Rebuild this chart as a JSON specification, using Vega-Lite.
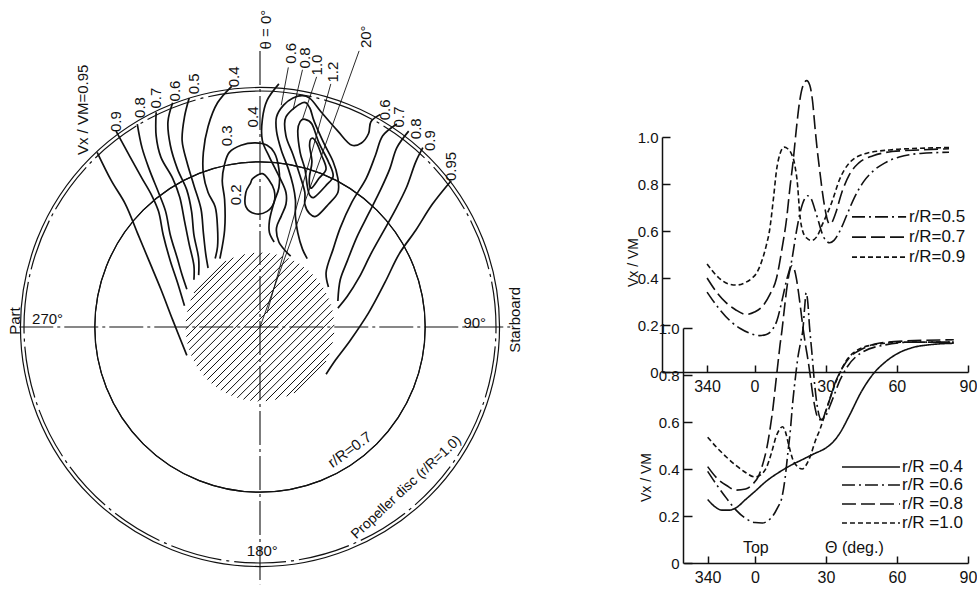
{
  "$schema": "https://vega.github.io/schema/vega-lite/v6.json",
  "width": 977,
  "height": 589,
  "autosize": {"type": "none"},
  "padding": 0,
  "background": "white",
  "config": {"view": {"stroke": null}, "font": "Liberation Sans", "text": {"font": "Liberation Sans", "color": "#111"}},
  "datasets": {
    "one": [{}],
    "hatch": [
      {"x1": -22.3, "y1": -22.3, "x2": 22.3, "y2": 22.3},
      {"x1": -20.5, "y1": -23.9, "x2": 23.9, "y2": 20.5},
      {"x1": -23.9, "y1": -20.5, "x2": 20.5, "y2": 23.9},
      {"x1": -18.6, "y1": -25.4, "x2": 25.4, "y2": 18.6},
      {"x1": -25.4, "y1": -18.6, "x2": 18.6, "y2": 25.4},
      {"x1": -16.6, "y1": -26.8, "x2": 26.8, "y2": 16.6},
      {"x1": -26.8, "y1": -16.6, "x2": 16.6, "y2": 26.8},
      {"x1": -14.4, "y1": -28.0, "x2": 28.0, "y2": 14.4},
      {"x1": -28.0, "y1": -14.4, "x2": 14.4, "y2": 28.0},
      {"x1": -12.1, "y1": -29.1, "x2": 29.1, "y2": 12.1},
      {"x1": -29.1, "y1": -12.1, "x2": 12.1, "y2": 29.1},
      {"x1": -9.6, "y1": -30.0, "x2": 30.0, "y2": 9.6},
      {"x1": -30.0, "y1": -9.6, "x2": 9.6, "y2": 30.0},
      {"x1": -7.0, "y1": -30.7, "x2": 30.7, "y2": 7.0},
      {"x1": -30.7, "y1": -7.0, "x2": 7.0, "y2": 30.7},
      {"x1": -4.1, "y1": -31.2, "x2": 31.2, "y2": 4.1},
      {"x1": -31.2, "y1": -4.1, "x2": 4.1, "y2": 31.2},
      {"x1": -0.9, "y1": -31.5, "x2": 31.5, "y2": 0.9},
      {"x1": -31.5, "y1": -0.9, "x2": 0.9, "y2": 31.5},
      {"x1": 2.5, "y1": -31.4, "x2": 31.4, "y2": -2.5},
      {"x1": -31.4, "y1": 2.5, "x2": -2.5, "y2": 31.4},
      {"x1": 6.5, "y1": -30.8, "x2": 30.8, "y2": -6.5},
      {"x1": -30.8, "y1": 6.5, "x2": -6.5, "y2": 30.8},
      {"x1": 11.3, "y1": -29.4, "x2": 29.4, "y2": -11.3},
      {"x1": -29.4, "y1": 11.3, "x2": -11.3, "y2": 29.4},
      {"x1": 14.4, "y1": -28.0, "x2": 28.0, "y2": -14.4},
      {"x1": -28.0, "y1": 14.4, "x2": -14.4, "y2": 28.0}
    ],
    "guides": [
      {"x1": -102, "y1": 0, "x2": 106, "y2": 0},
      {"x1": 0, "y1": 117, "x2": 0, "y2": -109}
    ],
    "thin": [
      {"x1": 0, "y1": 0, "x2": 42, "y2": 117},
      {"x1": 12, "y1": 110, "x2": 9, "y2": 94},
      {"x1": 18, "y1": 109, "x2": 14, "y2": 92},
      {"x1": 24, "y1": 106, "x2": 18, "y2": 88},
      {"x1": 30, "y1": 103, "x2": 3, "y2": 6}
    ],
    "open": [
      {"c": "L95", "i": 0, "x": -69, "y": 74}, {"c": "L95", "i": 1, "x": -63, "y": 62}, {"c": "L95", "i": 2, "x": -57, "y": 52}, {"c": "L95", "i": 3, "x": -52, "y": 40}, {"c": "L95", "i": 4, "x": -47, "y": 28}, {"c": "L95", "i": 5, "x": -42, "y": 16}, {"c": "L95", "i": 6, "x": -37, "y": 3}, {"c": "L95", "i": 7, "x": -31, "y": -12},
      {"c": "L90", "i": 0, "x": -61, "y": 83}, {"c": "L90", "i": 1, "x": -55, "y": 72}, {"c": "L90", "i": 2, "x": -50, "y": 63}, {"c": "L90", "i": 3, "x": -46, "y": 56}, {"c": "L90", "i": 4, "x": -43, "y": 49}, {"c": "L90", "i": 5, "x": -41, "y": 39}, {"c": "L90", "i": 6, "x": -38, "y": 28}, {"c": "L90", "i": 7, "x": -35, "y": 19}, {"c": "L90", "i": 8, "x": -32, "y": 9},
      {"c": "L80", "i": 0, "x": -52, "y": 86}, {"c": "L80", "i": 1, "x": -50, "y": 76}, {"c": "L80", "i": 2, "x": -47, "y": 67}, {"c": "L80", "i": 3, "x": -43, "y": 57}, {"c": "L80", "i": 4, "x": -40, "y": 49}, {"c": "L80", "i": 5, "x": -38, "y": 39}, {"c": "L80", "i": 6, "x": -35, "y": 29}, {"c": "L80", "i": 7, "x": -33, "y": 22}, {"c": "L80", "i": 8, "x": -31, "y": 16},
      {"c": "L70", "i": 0, "x": -44, "y": 91}, {"c": "L70", "i": 1, "x": -44, "y": 81}, {"c": "L70", "i": 2, "x": -42, "y": 72}, {"c": "L70", "i": 3, "x": -37, "y": 63}, {"c": "L70", "i": 4, "x": -34, "y": 55}, {"c": "L70", "i": 5, "x": -32, "y": 45}, {"c": "L70", "i": 6, "x": -30, "y": 35}, {"c": "L70", "i": 7, "x": -28, "y": 26}, {"c": "L70", "i": 8, "x": -28, "y": 20},
      {"c": "L60", "i": 0, "x": -37, "y": 95}, {"c": "L60", "i": 1, "x": -39, "y": 87}, {"c": "L60", "i": 2, "x": -38, "y": 77}, {"c": "L60", "i": 3, "x": -35, "y": 67}, {"c": "L60", "i": 4, "x": -31, "y": 58}, {"c": "L60", "i": 5, "x": -29, "y": 49}, {"c": "L60", "i": 6, "x": -28, "y": 39}, {"c": "L60", "i": 7, "x": -26, "y": 29}, {"c": "L60", "i": 8, "x": -26, "y": 22},
      {"c": "L50", "i": 0, "x": -30, "y": 97}, {"c": "L50", "i": 1, "x": -32, "y": 89}, {"c": "L50", "i": 2, "x": -33, "y": 79}, {"c": "L50", "i": 3, "x": -31, "y": 70}, {"c": "L50", "i": 4, "x": -28, "y": 60}, {"c": "L50", "i": 5, "x": -25, "y": 50}, {"c": "L50", "i": 6, "x": -24, "y": 40}, {"c": "L50", "i": 7, "x": -23, "y": 31}, {"c": "L50", "i": 8, "x": -22, "y": 25},
      {"c": "L40", "i": 0, "x": -12, "y": 102}, {"c": "L40", "i": 1, "x": -18, "y": 95}, {"c": "L40", "i": 2, "x": -22, "y": 85}, {"c": "L40", "i": 3, "x": -24, "y": 74}, {"c": "L40", "i": 4, "x": -24, "y": 65}, {"c": "L40", "i": 5, "x": -22, "y": 57}, {"c": "L40", "i": 6, "x": -19, "y": 51}, {"c": "L40", "i": 7, "x": -18, "y": 42}, {"c": "L40", "i": 8, "x": -18, "y": 34}, {"c": "L40", "i": 9, "x": -19, "y": 29},
      {"c": "C30", "i": 0, "x": -17, "y": 29}, {"c": "C30", "i": 1, "x": -15, "y": 41}, {"c": "C30", "i": 2, "x": -15, "y": 54}, {"c": "C30", "i": 3, "x": -16, "y": 62}, {"c": "C30", "i": 4, "x": -15, "y": 69}, {"c": "C30", "i": 5, "x": -13, "y": 74}, {"c": "C30", "i": 6, "x": -8, "y": 77}, {"c": "C30", "i": 7, "x": -2, "y": 78}, {"c": "C30", "i": 8, "x": 3, "y": 77}, {"c": "C30", "i": 9, "x": 6, "y": 74}, {"c": "C30", "i": 10, "x": 8, "y": 67}, {"c": "C30", "i": 11, "x": 8, "y": 59}, {"c": "C30", "i": 12, "x": 6, "y": 53}, {"c": "C30", "i": 13, "x": 4, "y": 45}, {"c": "C30", "i": 14, "x": 4, "y": 40}, {"c": "C30", "i": 15, "x": 6, "y": 36},
      {"c": "C40", "i": 0, "x": 8, "y": 103}, {"c": "C40", "i": 1, "x": 3, "y": 96}, {"c": "C40", "i": 2, "x": 1, "y": 88}, {"c": "C40", "i": 3, "x": 1, "y": 79}, {"c": "C40", "i": 4, "x": 4, "y": 72}, {"c": "C40", "i": 5, "x": 8, "y": 64}, {"c": "C40", "i": 6, "x": 11, "y": 57}, {"c": "C40", "i": 7, "x": 11, "y": 52}, {"c": "C40", "i": 8, "x": 9, "y": 47}, {"c": "C40", "i": 9, "x": 7, "y": 42}, {"c": "C40", "i": 10, "x": 8, "y": 36}, {"c": "C40", "i": 11, "x": 11, "y": 32}, {"c": "C40", "i": 12, "x": 13, "y": 30},
      {"c": "C60", "i": 0, "x": 51, "y": 90}, {"c": "C60", "i": 1, "x": 47, "y": 87}, {"c": "C60", "i": 2, "x": 46, "y": 82}, {"c": "C60", "i": 3, "x": 43, "y": 78}, {"c": "C60", "i": 4, "x": 39, "y": 77}, {"c": "C60", "i": 5, "x": 33, "y": 83}, {"c": "C60", "i": 6, "x": 26, "y": 91}, {"c": "C60", "i": 7, "x": 21, "y": 97}, {"c": "C60", "i": 8, "x": 18, "y": 98}, {"c": "C60", "i": 9, "x": 14, "y": 97}, {"c": "C60", "i": 10, "x": 10, "y": 94}, {"c": "C60", "i": 11, "x": 7, "y": 89}, {"c": "C60", "i": 12, "x": 7, "y": 83}, {"c": "C60", "i": 13, "x": 9, "y": 75}, {"c": "C60", "i": 14, "x": 12, "y": 67}, {"c": "C60", "i": 15, "x": 14, "y": 60}, {"c": "C60", "i": 16, "x": 15, "y": 54}, {"c": "C60", "i": 17, "x": 15, "y": 47}, {"c": "C60", "i": 18, "x": 16, "y": 40}, {"c": "C60", "i": 19, "x": 18, "y": 33}, {"c": "C60", "i": 20, "x": 20, "y": 29},
      {"c": "R70", "i": 0, "x": 58, "y": 86}, {"c": "R70", "i": 1, "x": 52, "y": 81}, {"c": "R70", "i": 2, "x": 49, "y": 73}, {"c": "R70", "i": 3, "x": 45, "y": 63}, {"c": "R70", "i": 4, "x": 39, "y": 53}, {"c": "R70", "i": 5, "x": 34, "y": 42}, {"c": "R70", "i": 6, "x": 31, "y": 33}, {"c": "R70", "i": 7, "x": 28, "y": 23}, {"c": "R70", "i": 8, "x": 29, "y": 17},
      {"c": "R80", "i": 0, "x": 63, "y": 83}, {"c": "R80", "i": 1, "x": 58, "y": 76}, {"c": "R80", "i": 2, "x": 55, "y": 67}, {"c": "R80", "i": 3, "x": 51, "y": 58}, {"c": "R80", "i": 4, "x": 46, "y": 48}, {"c": "R80", "i": 5, "x": 41, "y": 38}, {"c": "R80", "i": 6, "x": 37, "y": 28}, {"c": "R80", "i": 7, "x": 34, "y": 20}, {"c": "R80", "i": 8, "x": 33, "y": 11},
      {"c": "R90", "i": 0, "x": 69, "y": 76}, {"c": "R90", "i": 1, "x": 66, "y": 70}, {"c": "R90", "i": 2, "x": 62, "y": 59}, {"c": "R90", "i": 3, "x": 57, "y": 49}, {"c": "R90", "i": 4, "x": 52, "y": 40}, {"c": "R90", "i": 5, "x": 47, "y": 31}, {"c": "R90", "i": 6, "x": 42, "y": 21}, {"c": "R90", "i": 7, "x": 37, "y": 13}, {"c": "R90", "i": 8, "x": 33, "y": 8},
      {"c": "R95", "i": 0, "x": 81, "y": 62}, {"c": "R95", "i": 1, "x": 73, "y": 52}, {"c": "R95", "i": 2, "x": 66, "y": 41}, {"c": "R95", "i": 3, "x": 59, "y": 31}, {"c": "R95", "i": 4, "x": 53, "y": 19}, {"c": "R95", "i": 5, "x": 46, "y": 6}, {"c": "R95", "i": 6, "x": 38, "y": -6}, {"c": "R95", "i": 7, "x": 32, "y": -14}, {"c": "R95", "i": 8, "x": 28, "y": -20}
    ],
    "loops": [
      {"c": "C20", "i": 0, "x": -3, "y": 63}, {"c": "C20", "i": 1, "x": 1, "y": 65}, {"c": "C20", "i": 2, "x": 4, "y": 62}, {"c": "C20", "i": 3, "x": 6, "y": 58}, {"c": "C20", "i": 4, "x": 6, "y": 53}, {"c": "C20", "i": 5, "x": 3, "y": 49}, {"c": "C20", "i": 6, "x": -2, "y": 48}, {"c": "C20", "i": 7, "x": -6, "y": 51}, {"c": "C20", "i": 8, "x": -6, "y": 57}, {"c": "C20", "i": 9, "x": -4, "y": 61},
      {"c": "C80", "i": 0, "x": 18, "y": 95}, {"c": "C80", "i": 1, "x": 11, "y": 89}, {"c": "C80", "i": 2, "x": 11, "y": 81}, {"c": "C80", "i": 3, "x": 14, "y": 73}, {"c": "C80", "i": 4, "x": 17, "y": 64}, {"c": "C80", "i": 5, "x": 19, "y": 57}, {"c": "C80", "i": 6, "x": 19, "y": 52}, {"c": "C80", "i": 7, "x": 21, "y": 48}, {"c": "C80", "i": 8, "x": 24, "y": 47}, {"c": "C80", "i": 9, "x": 29, "y": 52}, {"c": "C80", "i": 10, "x": 33, "y": 57}, {"c": "C80", "i": 11, "x": 33, "y": 63}, {"c": "C80", "i": 12, "x": 31, "y": 70}, {"c": "C80", "i": 13, "x": 27, "y": 78}, {"c": "C80", "i": 14, "x": 23, "y": 87}, {"c": "C80", "i": 15, "x": 21, "y": 93},
      {"c": "C100", "i": 0, "x": 17, "y": 87}, {"c": "C100", "i": 1, "x": 16, "y": 83}, {"c": "C100", "i": 2, "x": 17, "y": 74}, {"c": "C100", "i": 3, "x": 19, "y": 67}, {"c": "C100", "i": 4, "x": 20, "y": 60}, {"c": "C100", "i": 5, "x": 21, "y": 56}, {"c": "C100", "i": 6, "x": 23, "y": 55}, {"c": "C100", "i": 7, "x": 28, "y": 60}, {"c": "C100", "i": 8, "x": 31, "y": 64}, {"c": "C100", "i": 9, "x": 29, "y": 70}, {"c": "C100", "i": 10, "x": 25, "y": 78}, {"c": "C100", "i": 11, "x": 22, "y": 86}, {"c": "C100", "i": 12, "x": 19, "y": 88},
      {"c": "C120", "i": 0, "x": 22, "y": 80}, {"c": "C120", "i": 1, "x": 21, "y": 77}, {"c": "C120", "i": 2, "x": 22, "y": 70}, {"c": "C120", "i": 3, "x": 21, "y": 64}, {"c": "C120", "i": 4, "x": 21, "y": 60}, {"c": "C120", "i": 5, "x": 22, "y": 59}, {"c": "C120", "i": 6, "x": 25, "y": 63}, {"c": "C120", "i": 7, "x": 28, "y": 67}, {"c": "C120", "i": 8, "x": 26, "y": 73}, {"c": "C120", "i": 9, "x": 24, "y": 78}
    ],
    "vlabels": [
      {"t": "θ = 0°", "x": 2.5, "y": 126},
      {"t": "20°", "x": 45, "y": 123},
      {"t": "Vx / VM=0.95", "x": -75, "y": 92},
      {"t": "0.9", "x": -61, "y": 87},
      {"t": "0.8", "x": -51, "y": 93},
      {"t": "0.7", "x": -44, "y": 97},
      {"t": "0.6", "x": -36, "y": 100},
      {"t": "0.5", "x": -28, "y": 103},
      {"t": "0.4", "x": -11, "y": 106},
      {"t": "0.3", "x": -14, "y": 81},
      {"t": "0.2", "x": -10, "y": 56},
      {"t": "0.4", "x": -3, "y": 89},
      {"t": "0.6", "x": 13, "y": 116},
      {"t": "0.8", "x": 19, "y": 114},
      {"t": "1.0", "x": 24, "y": 111},
      {"t": "1.2", "x": 31, "y": 108},
      {"t": "0.6", "x": 53, "y": 92},
      {"t": "0.7", "x": 59, "y": 89},
      {"t": "0.8", "x": 66, "y": 84},
      {"t": "0.9", "x": 72, "y": 79},
      {"t": "0.95", "x": 81, "y": 68},
      {"t": "Part", "x": -104, "y": 2.5},
      {"t": "Starboard", "x": 108, "y": 3}
    ],
    "hlabels": [
      {"t": "270°", "x": -90, "y": 3.4},
      {"t": "90°", "x": 91, "y": 1.7},
      {"t": "180°", "x": 1, "y": -95}
    ],
    "top": [
      {"r": "0.9", "deg": -20, "v": 0.46}, {"r": "0.9", "deg": -15, "v": 0.40}, {"r": "0.9", "deg": -11, "v": 0.375}, {"r": "0.9", "deg": -7.5, "v": 0.37}, {"r": "0.9", "deg": -4, "v": 0.38}, {"r": "0.9", "deg": -1, "v": 0.40}, {"r": "0.9", "deg": 0.8, "v": 0.42}, {"r": "0.9", "deg": 3, "v": 0.47}, {"r": "0.9", "deg": 5, "v": 0.54}, {"r": "0.9", "deg": 6.3, "v": 0.60}, {"r": "0.9", "deg": 8, "v": 0.74}, {"r": "0.9", "deg": 9.3, "v": 0.86}, {"r": "0.9", "deg": 10.8, "v": 0.93}, {"r": "0.9", "deg": 12.5, "v": 0.957}, {"r": "0.9", "deg": 14, "v": 0.95}, {"r": "0.9", "deg": 15.5, "v": 0.93}, {"r": "0.9", "deg": 17, "v": 0.88}, {"r": "0.9", "deg": 18.2, "v": 0.79}, {"r": "0.9", "deg": 19, "v": 0.68}, {"r": "0.9", "deg": 20.3, "v": 0.60}, {"r": "0.9", "deg": 22, "v": 0.57}, {"r": "0.9", "deg": 24, "v": 0.56}, {"r": "0.9", "deg": 26.2, "v": 0.575}, {"r": "0.9", "deg": 28.7, "v": 0.63}, {"r": "0.9", "deg": 32.5, "v": 0.72}, {"r": "0.9", "deg": 35.9, "v": 0.82}, {"r": "0.9", "deg": 40, "v": 0.89}, {"r": "0.9", "deg": 47, "v": 0.93}, {"r": "0.9", "deg": 57, "v": 0.945}, {"r": "0.9", "deg": 70, "v": 0.952}, {"r": "0.9", "deg": 82, "v": 0.955},
      {"r": "0.7", "deg": -20, "v": 0.40}, {"r": "0.7", "deg": -16, "v": 0.34}, {"r": "0.7", "deg": -12, "v": 0.295}, {"r": "0.7", "deg": -8, "v": 0.265}, {"r": "0.7", "deg": -3.5, "v": 0.245}, {"r": "0.7", "deg": 0, "v": 0.255}, {"r": "0.7", "deg": 3.4, "v": 0.28}, {"r": "0.7", "deg": 6.5, "v": 0.33}, {"r": "0.7", "deg": 9.3, "v": 0.40}, {"r": "0.7", "deg": 11.5, "v": 0.52}, {"r": "0.7", "deg": 13.5, "v": 0.65}, {"r": "0.7", "deg": 15, "v": 0.79}, {"r": "0.7", "deg": 16.2, "v": 0.89}, {"r": "0.7", "deg": 17.7, "v": 1.04}, {"r": "0.7", "deg": 19, "v": 1.15}, {"r": "0.7", "deg": 20.5, "v": 1.22}, {"r": "0.7", "deg": 22, "v": 1.24}, {"r": "0.7", "deg": 23.3, "v": 1.22}, {"r": "0.7", "deg": 24.5, "v": 1.15}, {"r": "0.7", "deg": 25.5, "v": 1.04}, {"r": "0.7", "deg": 26.5, "v": 0.94}, {"r": "0.7", "deg": 27.7, "v": 0.84}, {"r": "0.7", "deg": 28.7, "v": 0.76}, {"r": "0.7", "deg": 29.8, "v": 0.69}, {"r": "0.7", "deg": 30.8, "v": 0.645}, {"r": "0.7", "deg": 31.5, "v": 0.63}, {"r": "0.7", "deg": 32.5, "v": 0.635}, {"r": "0.7", "deg": 34, "v": 0.67}, {"r": "0.7", "deg": 37, "v": 0.77}, {"r": "0.7", "deg": 40, "v": 0.84}, {"r": "0.7", "deg": 44, "v": 0.89}, {"r": "0.7", "deg": 50, "v": 0.92}, {"r": "0.7", "deg": 58, "v": 0.938}, {"r": "0.7", "deg": 70, "v": 0.945}, {"r": "0.7", "deg": 82, "v": 0.95},
      {"r": "0.5", "deg": -20, "v": 0.34}, {"r": "0.5", "deg": -15, "v": 0.27}, {"r": "0.5", "deg": -10, "v": 0.215}, {"r": "0.5", "deg": -6, "v": 0.185}, {"r": "0.5", "deg": -2, "v": 0.165}, {"r": "0.5", "deg": 2, "v": 0.155}, {"r": "0.5", "deg": 5, "v": 0.16}, {"r": "0.5", "deg": 7.5, "v": 0.18}, {"r": "0.5", "deg": 9.5, "v": 0.22}, {"r": "0.5", "deg": 11.5, "v": 0.30}, {"r": "0.5", "deg": 13.5, "v": 0.39}, {"r": "0.5", "deg": 15.6, "v": 0.47}, {"r": "0.5", "deg": 17.7, "v": 0.60}, {"r": "0.5", "deg": 19.5, "v": 0.69}, {"r": "0.5", "deg": 21, "v": 0.735}, {"r": "0.5", "deg": 22.4, "v": 0.75}, {"r": "0.5", "deg": 24, "v": 0.735}, {"r": "0.5", "deg": 25.5, "v": 0.69}, {"r": "0.5", "deg": 27, "v": 0.64}, {"r": "0.5", "deg": 28.5, "v": 0.59}, {"r": "0.5", "deg": 30, "v": 0.56}, {"r": "0.5", "deg": 31.7, "v": 0.55}, {"r": "0.5", "deg": 33.5, "v": 0.56}, {"r": "0.5", "deg": 36, "v": 0.60}, {"r": "0.5", "deg": 39, "v": 0.67}, {"r": "0.5", "deg": 42, "v": 0.74}, {"r": "0.5", "deg": 46, "v": 0.81}, {"r": "0.5", "deg": 50, "v": 0.855}, {"r": "0.5", "deg": 55, "v": 0.89}, {"r": "0.5", "deg": 61, "v": 0.915}, {"r": "0.5", "deg": 70, "v": 0.93}, {"r": "0.5", "deg": 82, "v": 0.935}
    ],
    "bottom": [
      {"r": "0.4", "deg": -20, "v": 0.27}, {"r": "0.4", "deg": -17, "v": 0.24}, {"r": "0.4", "deg": -14, "v": 0.225}, {"r": "0.4", "deg": -11, "v": 0.225}, {"r": "0.4", "deg": -8, "v": 0.235}, {"r": "0.4", "deg": -4, "v": 0.27}, {"r": "0.4", "deg": 0, "v": 0.305}, {"r": "0.4", "deg": 5, "v": 0.35}, {"r": "0.4", "deg": 10, "v": 0.385}, {"r": "0.4", "deg": 15, "v": 0.415}, {"r": "0.4", "deg": 20, "v": 0.44}, {"r": "0.4", "deg": 25, "v": 0.465}, {"r": "0.4", "deg": 30, "v": 0.49}, {"r": "0.4", "deg": 33, "v": 0.515}, {"r": "0.4", "deg": 36, "v": 0.555}, {"r": "0.4", "deg": 40, "v": 0.63}, {"r": "0.4", "deg": 45, "v": 0.73}, {"r": "0.4", "deg": 50, "v": 0.805}, {"r": "0.4", "deg": 55, "v": 0.855}, {"r": "0.4", "deg": 60, "v": 0.89}, {"r": "0.4", "deg": 66, "v": 0.915}, {"r": "0.4", "deg": 75, "v": 0.93}, {"r": "0.4", "deg": 84, "v": 0.935},
      {"r": "0.6", "deg": -20, "v": 0.39}, {"r": "0.6", "deg": -16, "v": 0.33}, {"r": "0.6", "deg": -12, "v": 0.275}, {"r": "0.6", "deg": -8, "v": 0.225}, {"r": "0.6", "deg": -4, "v": 0.19}, {"r": "0.6", "deg": 0, "v": 0.172}, {"r": "0.6", "deg": 3, "v": 0.17}, {"r": "0.6", "deg": 5.5, "v": 0.18}, {"r": "0.6", "deg": 7.5, "v": 0.20}, {"r": "0.6", "deg": 9.5, "v": 0.235}, {"r": "0.6", "deg": 11.4, "v": 0.28}, {"r": "0.6", "deg": 12.7, "v": 0.36}, {"r": "0.6", "deg": 13.9, "v": 0.47}, {"r": "0.6", "deg": 14.8, "v": 0.55}, {"r": "0.6", "deg": 16, "v": 0.69}, {"r": "0.6", "deg": 17.2, "v": 0.80}, {"r": "0.6", "deg": 18.2, "v": 0.88}, {"r": "0.6", "deg": 19.3, "v": 0.94}, {"r": "0.6", "deg": 20.3, "v": 1.0}, {"r": "0.6", "deg": 21, "v": 1.09}, {"r": "0.6", "deg": 21.6, "v": 1.15}, {"r": "0.6", "deg": 22.3, "v": 1.11}, {"r": "0.6", "deg": 23, "v": 1.01}, {"r": "0.6", "deg": 24, "v": 0.90}, {"r": "0.6", "deg": 25.3, "v": 0.75}, {"r": "0.6", "deg": 26.6, "v": 0.65}, {"r": "0.6", "deg": 28, "v": 0.61}, {"r": "0.6", "deg": 29.5, "v": 0.62}, {"r": "0.6", "deg": 32.5, "v": 0.69}, {"r": "0.6", "deg": 36, "v": 0.78}, {"r": "0.6", "deg": 39, "v": 0.835}, {"r": "0.6", "deg": 45, "v": 0.895}, {"r": "0.6", "deg": 55, "v": 0.928}, {"r": "0.6", "deg": 67, "v": 0.94}, {"r": "0.6", "deg": 84, "v": 0.94},
      {"r": "0.8", "deg": -20, "v": 0.41}, {"r": "0.8", "deg": -16, "v": 0.36}, {"r": "0.8", "deg": -12, "v": 0.33}, {"r": "0.8", "deg": -8, "v": 0.31}, {"r": "0.8", "deg": -4, "v": 0.315}, {"r": "0.8", "deg": -1, "v": 0.335}, {"r": "0.8", "deg": 1.5, "v": 0.37}, {"r": "0.8", "deg": 3.4, "v": 0.425}, {"r": "0.8", "deg": 5, "v": 0.49}, {"r": "0.8", "deg": 6.5, "v": 0.58}, {"r": "0.8", "deg": 7.6, "v": 0.66}, {"r": "0.8", "deg": 8.7, "v": 0.76}, {"r": "0.8", "deg": 9.7, "v": 0.85}, {"r": "0.8", "deg": 10.6, "v": 0.93}, {"r": "0.8", "deg": 11.4, "v": 0.99}, {"r": "0.8", "deg": 12.5, "v": 1.09}, {"r": "0.8", "deg": 13.6, "v": 1.18}, {"r": "0.8", "deg": 14.6, "v": 1.24}, {"r": "0.8", "deg": 15.6, "v": 1.265}, {"r": "0.8", "deg": 16.6, "v": 1.25}, {"r": "0.8", "deg": 17.5, "v": 1.21}, {"r": "0.8", "deg": 18.4, "v": 1.15}, {"r": "0.8", "deg": 19.3, "v": 1.08}, {"r": "0.8", "deg": 20.3, "v": 1.0}, {"r": "0.8", "deg": 21.3, "v": 0.93}, {"r": "0.8", "deg": 22.3, "v": 0.87}, {"r": "0.8", "deg": 23.3, "v": 0.80}, {"r": "0.8", "deg": 24.5, "v": 0.71}, {"r": "0.8", "deg": 25.8, "v": 0.64}, {"r": "0.8", "deg": 27, "v": 0.61}, {"r": "0.8", "deg": 28.3, "v": 0.61}, {"r": "0.8", "deg": 30, "v": 0.65}, {"r": "0.8", "deg": 31.7, "v": 0.70}, {"r": "0.8", "deg": 34, "v": 0.77}, {"r": "0.8", "deg": 37.2, "v": 0.835}, {"r": "0.8", "deg": 40, "v": 0.875}, {"r": "0.8", "deg": 44.4, "v": 0.906}, {"r": "0.8", "deg": 52.8, "v": 0.936}, {"r": "0.8", "deg": 64, "v": 0.945}, {"r": "0.8", "deg": 84, "v": 0.95},
      {"r": "1.0", "deg": -20, "v": 0.535}, {"r": "1.0", "deg": -16, "v": 0.49}, {"r": "1.0", "deg": -12, "v": 0.45}, {"r": "1.0", "deg": -8, "v": 0.415}, {"r": "1.0", "deg": -4, "v": 0.385}, {"r": "1.0", "deg": 0, "v": 0.366}, {"r": "1.0", "deg": 3, "v": 0.38}, {"r": "1.0", "deg": 5, "v": 0.41}, {"r": "1.0", "deg": 7, "v": 0.47}, {"r": "1.0", "deg": 9, "v": 0.54}, {"r": "1.0", "deg": 10.5, "v": 0.57}, {"r": "1.0", "deg": 11.6, "v": 0.58}, {"r": "1.0", "deg": 12.8, "v": 0.56}, {"r": "1.0", "deg": 14.3, "v": 0.50}, {"r": "1.0", "deg": 16, "v": 0.44}, {"r": "1.0", "deg": 18, "v": 0.41}, {"r": "1.0", "deg": 20, "v": 0.40}, {"r": "1.0", "deg": 21.5, "v": 0.415}, {"r": "1.0", "deg": 23.2, "v": 0.45}, {"r": "1.0", "deg": 25.5, "v": 0.52}, {"r": "1.0", "deg": 27.5, "v": 0.57}, {"r": "1.0", "deg": 30.4, "v": 0.66}, {"r": "1.0", "deg": 33, "v": 0.74}, {"r": "1.0", "deg": 35.9, "v": 0.81}, {"r": "1.0", "deg": 38.5, "v": 0.86}, {"r": "1.0", "deg": 41.4, "v": 0.893}, {"r": "1.0", "deg": 45, "v": 0.915}, {"r": "1.0", "deg": 50, "v": 0.928}, {"r": "1.0", "deg": 64, "v": 0.94}, {"r": "1.0", "deg": 84, "v": 0.94}
    ],
    "notes": [
      {"t": "Top", "deg": -5.1, "v": 0.064},
      {"t": "Θ (deg.)", "deg": 29.6, "v": 0.064}
    ]
  },
  "layer": [
    {
      "layer": [
        {
          "data": {"name": "hatch"},
          "mark": {"type": "rule", "color": "#111", "strokeWidth": 1.0},
          "encoding": {
            "x": {"field": "x1", "type": "quantitative", "scale": {"domain": [-100, 100], "range": [24, 496], "nice": false, "zero": false}, "axis": null},
            "y": {"field": "y1", "type": "quantitative", "scale": {"domain": [-100, 100], "range": [563, 91], "nice": false, "zero": false}, "axis": null},
            "x2": {"field": "x2"},
            "y2": {"field": "y2"}
          }
        },
        {
          "data": {"values": [{"r": 100}]},
          "mark": {"type": "arc", "theta": 0, "theta2": 6.2832, "filled": false, "stroke": "#111", "strokeWidth": 1.2, "strokeDash": [52, 5, 3, 5]},
          "encoding": {
            "x": {"datum": 0, "type": "quantitative", "axis": null},
            "y": {"datum": 0, "type": "quantitative", "axis": null},
            "radius": {"field": "r", "type": "quantitative", "scale": {"type": "linear", "domain": [0, 100], "range": [0, 236], "zero": true, "nice": false}, "legend": null}
          }
        },
        {
          "data": {"values": [{"r": 70}, {"r": 31.5}]},
          "mark": {"type": "arc", "theta": 0, "theta2": 6.2832, "filled": false, "stroke": "#111", "strokeWidth": 1.2},
          "encoding": {
            "x": {"datum": 0, "type": "quantitative", "axis": null},
            "y": {"datum": 0, "type": "quantitative", "axis": null},
            "radius": {"field": "r", "type": "quantitative", "scale": {"type": "linear", "domain": [0, 100], "range": [0, 236], "zero": true, "nice": false}, "legend": null}
          }
        },
        {
          "data": {"name": "guides"},
          "mark": {"type": "rule", "color": "#111", "strokeWidth": 1.1, "strokeDash": [34, 4, 3, 4]},
          "encoding": {
            "x": {"field": "x1", "type": "quantitative", "axis": null},
            "y": {"field": "y1", "type": "quantitative", "axis": null},
            "x2": {"field": "x2"},
            "y2": {"field": "y2"}
          }
        },
        {
          "data": {"name": "thin"},
          "mark": {"type": "rule", "color": "#111", "strokeWidth": 0.9},
          "encoding": {
            "x": {"field": "x1", "type": "quantitative", "axis": null},
            "y": {"field": "y1", "type": "quantitative", "axis": null},
            "x2": {"field": "x2"},
            "y2": {"field": "y2"}
          }
        },
        {
          "data": {"name": "open"},
          "mark": {"type": "line", "color": "#111", "strokeWidth": 1.7, "interpolate": "catmull-rom"},
          "encoding": {
            "x": {"field": "x", "type": "quantitative", "axis": null},
            "y": {"field": "y", "type": "quantitative", "axis": null},
            "detail": {"field": "c"},
            "order": {"field": "i", "type": "quantitative"}
          }
        },
        {
          "data": {"name": "loops"},
          "mark": {"type": "line", "color": "#111", "strokeWidth": 1.7, "interpolate": "cardinal-closed"},
          "encoding": {
            "x": {"field": "x", "type": "quantitative", "axis": null},
            "y": {"field": "y", "type": "quantitative", "axis": null},
            "detail": {"field": "c"},
            "order": {"field": "i", "type": "quantitative"}
          }
        },
        {
          "data": {"name": "vlabels"},
          "mark": {"type": "text", "angle": 270, "fontSize": 15, "align": "center", "baseline": "middle", "color": "#111"},
          "encoding": {
            "x": {"field": "x", "type": "quantitative", "axis": null},
            "y": {"field": "y", "type": "quantitative", "axis": null},
            "text": {"field": "t"}
          }
        },
        {
          "data": {"name": "hlabels"},
          "mark": {"type": "text", "fontSize": 15, "align": "center", "baseline": "middle", "color": "#111"},
          "encoding": {
            "x": {"field": "x", "type": "quantitative", "axis": null},
            "y": {"field": "y", "type": "quantitative", "axis": null},
            "text": {"field": "t"}
          }
        },
        {
          "data": {"values": [{"t": "r/R=0.7", "x": 38, "y": -52}]},
          "mark": {"type": "text", "angle": -36, "fontSize": 15, "align": "center", "baseline": "middle", "color": "#111"},
          "encoding": {
            "x": {"field": "x", "type": "quantitative", "axis": null},
            "y": {"field": "y", "type": "quantitative", "axis": null},
            "text": {"field": "t"}
          }
        },
        {
          "data": {"values": [{"t": "Propeller disc (r/R=1.0)", "x": 62, "y": -68}]},
          "mark": {"type": "text", "angle": -43, "fontSize": 14, "align": "center", "baseline": "middle", "color": "#111"},
          "encoding": {
            "x": {"field": "x", "type": "quantitative", "axis": null},
            "y": {"field": "y", "type": "quantitative", "axis": null},
            "text": {"field": "t"}
          }
        }
      ]
    },
    {
      "layer": [
        {
          "data": {"name": "top"},
          "mark": {"type": "line", "color": "#111", "strokeWidth": 1.6, "interpolate": "monotone"},
          "encoding": {
            "x": {
              "field": "deg", "type": "quantitative",
              "scale": {"domain": [-39, 90], "range": [662, 968], "nice": false, "zero": false},
              "axis": {"orient": "bottom", "offset": -217, "values": [-20, 0, 30, 60, 90], "labelExpr": "datum.value == -20 ? '340' : datum.label", "tickSize": -7, "tickWidth": 1.5, "domainWidth": 1.5, "domainColor": "#111", "tickColor": "#111", "labelColor": "#111", "labelFontSize": 16, "labelFont": "Liberation Sans", "labelPadding": 13, "title": null, "grid": false, "labelFlush": false, "labelOverlap": false}
            },
            "y": {
              "field": "v", "type": "quantitative",
              "scale": {"domain": [0, 1], "range": [372, 137], "nice": false, "zero": false},
              "axis": {"orient": "left", "offset": -662, "values": [0, 0.2, 0.4, 0.6, 0.8, 1.0], "labelExpr": "datum.value == 0 ? '0' : format(datum.value, '.1f')", "tickSize": -8, "tickWidth": 1.5, "domainWidth": 1.5, "domainColor": "#111", "tickColor": "#111", "labelColor": "#111", "labelFontSize": 15, "labelFont": "Liberation Sans", "labelPadding": 12, "grid": false, "labelFlush": false, "labelOverlap": false, "title": "Vx / VM", "titleFont": "Liberation Sans", "titleFontSize": 14, "titleFontWeight": "normal", "titleColor": "#111", "titleX": -29, "titleY": 262, "titleAngle": 270, "titleAlign": "center", "titleBaseline": "middle"}
            },
            "strokeDash": {
              "field": "r", "type": "nominal",
              "scale": {"domain": ["0.5", "0.7", "0.9"], "range": [[13, 4, 2, 4], [14, 5], [5, 3]]},
              "legend": null
            }
          }
        },
        {"data": {"name": "one"}, "mark": {"type": "rule", "color": "#111", "strokeWidth": 1.6, "strokeDash": [13, 4, 2, 4]}, "encoding": {"x": {"datum": 41.1, "type": "quantitative"}, "x2": {"datum": 63.9}, "y": {"datum": 0.66, "type": "quantitative"}}},
        {"data": {"name": "one"}, "mark": {"type": "rule", "color": "#111", "strokeWidth": 1.6, "strokeDash": [14, 5]}, "encoding": {"x": {"datum": 41.1, "type": "quantitative"}, "x2": {"datum": 63.9}, "y": {"datum": 0.574, "type": "quantitative"}}},
        {"data": {"name": "one"}, "mark": {"type": "rule", "color": "#111", "strokeWidth": 1.6, "strokeDash": [5, 3]}, "encoding": {"x": {"datum": 41.1, "type": "quantitative"}, "x2": {"datum": 63.9}, "y": {"datum": 0.489, "type": "quantitative"}}},
        {"data": {"name": "one"}, "mark": {"type": "text", "text": "r/R=0.5", "fontSize": 17, "align": "left", "baseline": "middle", "color": "#111"}, "encoding": {"x": {"datum": 65.1, "type": "quantitative"}, "y": {"datum": 0.66, "type": "quantitative"}}},
        {"data": {"name": "one"}, "mark": {"type": "text", "text": "r/R=0.7", "fontSize": 17, "align": "left", "baseline": "middle", "color": "#111"}, "encoding": {"x": {"datum": 65.1, "type": "quantitative"}, "y": {"datum": 0.574, "type": "quantitative"}}},
        {"data": {"name": "one"}, "mark": {"type": "text", "text": "r/R=0.9", "fontSize": 17, "align": "left", "baseline": "middle", "color": "#111"}, "encoding": {"x": {"datum": 65.1, "type": "quantitative"}, "y": {"datum": 0.489, "type": "quantitative"}}}
      ]
    },
    {
      "layer": [
        {
          "data": {"name": "bottom"},
          "mark": {"type": "line", "color": "#111", "strokeWidth": 1.6, "interpolate": "monotone"},
          "encoding": {
            "x": {
              "field": "deg", "type": "quantitative",
              "scale": {"domain": [-30, 90], "range": [684, 968], "nice": false, "zero": false},
              "axis": {"orient": "bottom", "offset": -26, "values": [-20, 0, 30, 60, 90], "labelExpr": "datum.value == -20 ? '340' : datum.label", "tickSize": -7, "tickWidth": 1.5, "domainWidth": 1.5, "domainColor": "#111", "tickColor": "#111", "labelColor": "#111", "labelFontSize": 16, "labelFont": "Liberation Sans", "labelPadding": 13, "title": null, "grid": false, "labelFlush": false, "labelOverlap": false}
            },
            "y": {
              "field": "v", "type": "quantitative",
              "scale": {"domain": [0, 1], "range": [563, 328], "nice": false, "zero": false},
              "axis": {"orient": "left", "offset": -683, "values": [0, 0.2, 0.4, 0.6, 0.8, 1.0], "labelExpr": "datum.value == 0 ? '0' : format(datum.value, '.1f')", "tickSize": -9, "tickWidth": 1.5, "domainWidth": 1.5, "domainColor": "#111", "tickColor": "#111", "labelColor": "#111", "labelFontSize": 15, "labelFont": "Liberation Sans", "labelPadding": 13, "grid": false, "labelFlush": false, "labelOverlap": false, "title": "Vx / VM", "titleFont": "Liberation Sans", "titleFontSize": 14, "titleFontWeight": "normal", "titleColor": "#111", "titleX": -37, "titleY": 477, "titleAngle": 270, "titleAlign": "center", "titleBaseline": "middle"}
            },
            "strokeDash": {
              "field": "r", "type": "nominal",
              "scale": {"domain": ["0.4", "0.6", "0.8", "1.0"], "range": [[1, 0], [13, 4, 2, 4], [14, 5], [5, 3]]},
              "legend": null
            }
          }
        },
        {
          "data": {"name": "notes"},
          "mark": {"type": "text", "fontSize": 16, "align": "left", "baseline": "middle", "color": "#111"},
          "encoding": {
            "x": {"field": "deg", "type": "quantitative"},
            "y": {"field": "v", "type": "quantitative"},
            "text": {"field": "t"}
          }
        },
        {"data": {"name": "one"}, "mark": {"type": "rule", "color": "#111", "strokeWidth": 1.6}, "encoding": {"x": {"datum": 36.75, "type": "quantitative"}, "x2": {"datum": 61.25}, "y": {"datum": 0.4085, "type": "quantitative"}}},
        {"data": {"name": "one"}, "mark": {"type": "rule", "color": "#111", "strokeWidth": 1.6, "strokeDash": [13, 4, 2, 4]}, "encoding": {"x": {"datum": 36.75, "type": "quantitative"}, "x2": {"datum": 61.25}, "y": {"datum": 0.332, "type": "quantitative"}}},
        {"data": {"name": "one"}, "mark": {"type": "rule", "color": "#111", "strokeWidth": 1.6, "strokeDash": [14, 5]}, "encoding": {"x": {"datum": 36.75, "type": "quantitative"}, "x2": {"datum": 61.25}, "y": {"datum": 0.251, "type": "quantitative"}}},
        {"data": {"name": "one"}, "mark": {"type": "rule", "color": "#111", "strokeWidth": 1.6, "strokeDash": [5, 3]}, "encoding": {"x": {"datum": 36.75, "type": "quantitative"}, "x2": {"datum": 61.25}, "y": {"datum": 0.170, "type": "quantitative"}}},
        {"data": {"name": "one"}, "mark": {"type": "text", "text": "r/R =0.4", "fontSize": 17, "align": "left", "baseline": "middle", "color": "#111"}, "encoding": {"x": {"datum": 62.1, "type": "quantitative"}, "y": {"datum": 0.4085, "type": "quantitative"}}},
        {"data": {"name": "one"}, "mark": {"type": "text", "text": "r/R =0.6", "fontSize": 17, "align": "left", "baseline": "middle", "color": "#111"}, "encoding": {"x": {"datum": 62.1, "type": "quantitative"}, "y": {"datum": 0.332, "type": "quantitative"}}},
        {"data": {"name": "one"}, "mark": {"type": "text", "text": "r/R =0.8", "fontSize": 17, "align": "left", "baseline": "middle", "color": "#111"}, "encoding": {"x": {"datum": 62.1, "type": "quantitative"}, "y": {"datum": 0.251, "type": "quantitative"}}},
        {"data": {"name": "one"}, "mark": {"type": "text", "text": "r/R =1.0", "fontSize": 17, "align": "left", "baseline": "middle", "color": "#111"}, "encoding": {"x": {"datum": 62.1, "type": "quantitative"}, "y": {"datum": 0.170, "type": "quantitative"}}}
      ]
    }
  ],
  "resolve": {
    "scale": {"x": "independent", "y": "independent", "strokeDash": "independent"},
    "axis": {"x": "independent", "y": "independent"}
  }
}
